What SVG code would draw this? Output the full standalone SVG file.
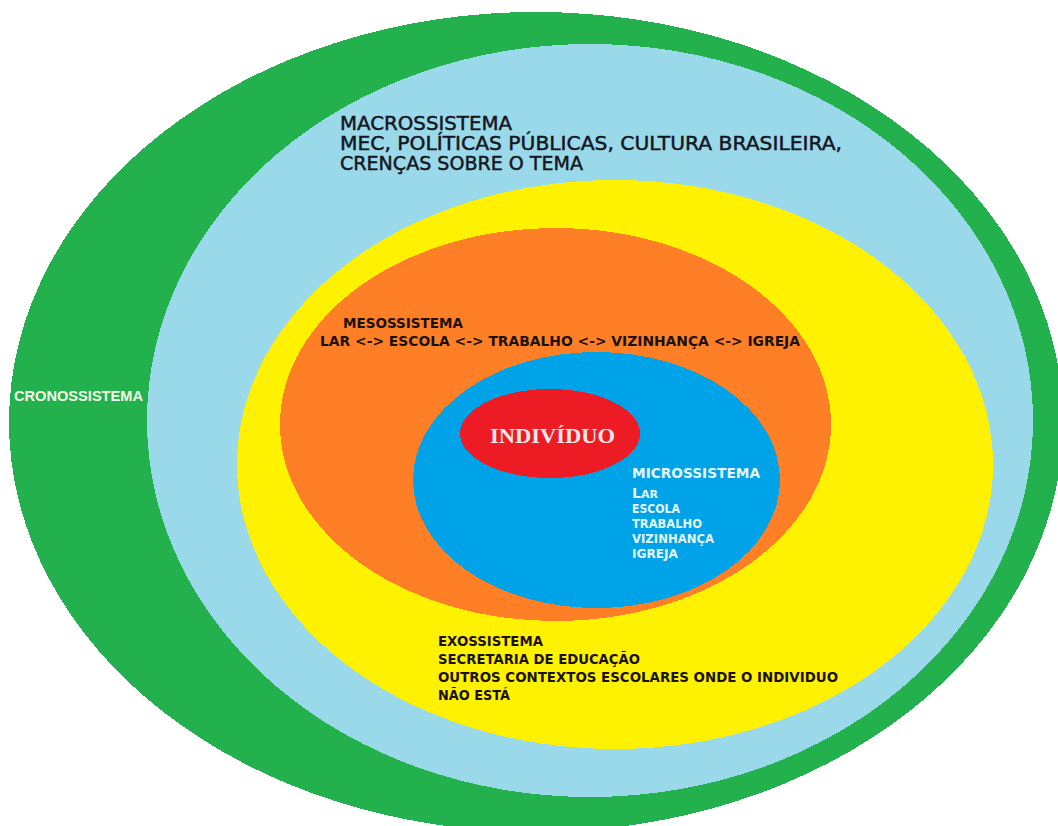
<svg xmlns="http://www.w3.org/2000/svg" width="1058" height="826" viewBox="0 0 1058 826">
  <style>
    .ring { shape-rendering: crispEdges; }
    .macro { font-family: "DejaVu Sans", "Liberation Sans", sans-serif; font-size: 19px; fill: #151520; stroke: #151520; stroke-width: 0.45; }
    .dark { font-family: "DejaVu Sans", "Liberation Sans", sans-serif; font-weight: bold; font-size: 14px; fill: #1a1208; }
    .micro { font-family: "DejaVu Sans", "Liberation Sans", sans-serif; font-weight: bold; fill: #e4f6ff; }
    .crono { font-family: "Liberation Sans", Arial, sans-serif; font-weight: bold; font-size: 14px; fill: #f4fbe6; }
    .indiv { font-family: "Liberation Serif", "Times New Roman", serif; font-weight: bold; font-size: 22px; fill: #fbe8ea; }
  </style>
  <rect width="1058" height="826" fill="#ffffff"/>

  <!-- Cronossistema: outermost ring -->
  <g id="cronossistema">
    <ellipse class="ring" cx="536" cy="422" rx="527" ry="410" fill="#22b14c"/>
    <text class="crono" x="14" y="401" textLength="129" lengthAdjust="spacingAndGlyphs">CRONOSSISTEMA</text>
  </g>

  <!-- Macrossistema -->
  <g id="macrossistema">
    <ellipse class="ring" cx="590" cy="420.5" rx="443" ry="376.5" fill="#99d9ea"/>
    <text class="macro" x="340" y="130" textLength="172" lengthAdjust="spacingAndGlyphs">MACROSSISTEMA</text>
    <text class="macro" x="340" y="150" textLength="502" lengthAdjust="spacingAndGlyphs">MEC, POLÍTICAS PÚBLICAS, CULTURA BRASILEIRA,</text>
    <text class="macro" x="340" y="170" textLength="243" lengthAdjust="spacingAndGlyphs">CRENÇAS SOBRE O TEMA</text>
  </g>

  <!-- Exossistema -->
  <g id="exossistema">
    <ellipse class="ring" cx="615" cy="464.5" rx="378" ry="284.5" fill="#fff200"/>
    <text class="dark" x="438" y="646" textLength="105" lengthAdjust="spacingAndGlyphs">EXOSSISTEMA</text>
    <text class="dark" x="438" y="664" textLength="202" lengthAdjust="spacingAndGlyphs">SECRETARIA DE EDUCAÇÃO</text>
    <text class="dark" x="438" y="682" textLength="400" lengthAdjust="spacingAndGlyphs">OUTROS CONTEXTOS ESCOLARES ONDE O INDIVIDUO</text>
    <text class="dark" x="438" y="700" textLength="72" lengthAdjust="spacingAndGlyphs">NÃO ESTÁ</text>
  </g>

  <!-- Mesossistema -->
  <g id="mesossistema">
    <ellipse class="ring" cx="555.5" cy="424.5" rx="275.5" ry="196.5" fill="#ff7f27"/>
    <text class="dark" x="343" y="328" textLength="120" lengthAdjust="spacingAndGlyphs">MESOSSISTEMA</text>
    <text class="dark" x="320" y="346" textLength="480" lengthAdjust="spacingAndGlyphs">LAR &lt;-&gt; ESCOLA &lt;-&gt; TRABALHO &lt;-&gt; VIZINHANÇA &lt;-&gt; IGREJA</text>
  </g>

  <!-- Microssistema -->
  <g id="microssistema">
    <ellipse class="ring" cx="596.5" cy="480" rx="183.5" ry="128" fill="#00a2e8"/>
    <text class="micro" x="632" y="478" font-size="14" textLength="128" lengthAdjust="spacingAndGlyphs">MICROSSISTEMA</text>
    <text class="micro" x="632" y="498" font-size="14" textLength="26" lengthAdjust="spacingAndGlyphs">L<tspan font-size="11">AR</tspan></text>
    <text class="micro" x="632" y="513" font-size="11.5" textLength="48" lengthAdjust="spacingAndGlyphs">ESCOLA</text>
    <text class="micro" x="632" y="528" font-size="11.5" textLength="70" lengthAdjust="spacingAndGlyphs">TRABALHO</text>
    <text class="micro" x="632" y="543" font-size="11.5" textLength="82" lengthAdjust="spacingAndGlyphs">VIZINHANÇA</text>
    <text class="micro" x="632" y="558" font-size="11.5" textLength="46" lengthAdjust="spacingAndGlyphs">IGREJA</text>
  </g>

  <!-- Indivíduo: centre -->
  <g id="individuo">
    <ellipse class="ring" cx="550" cy="433.5" rx="90" ry="44.5" fill="#ed1c24"/>
    <text class="indiv" x="490" y="443" textLength="125" lengthAdjust="spacingAndGlyphs">INDIVÍDUO</text>
  </g>
</svg>
